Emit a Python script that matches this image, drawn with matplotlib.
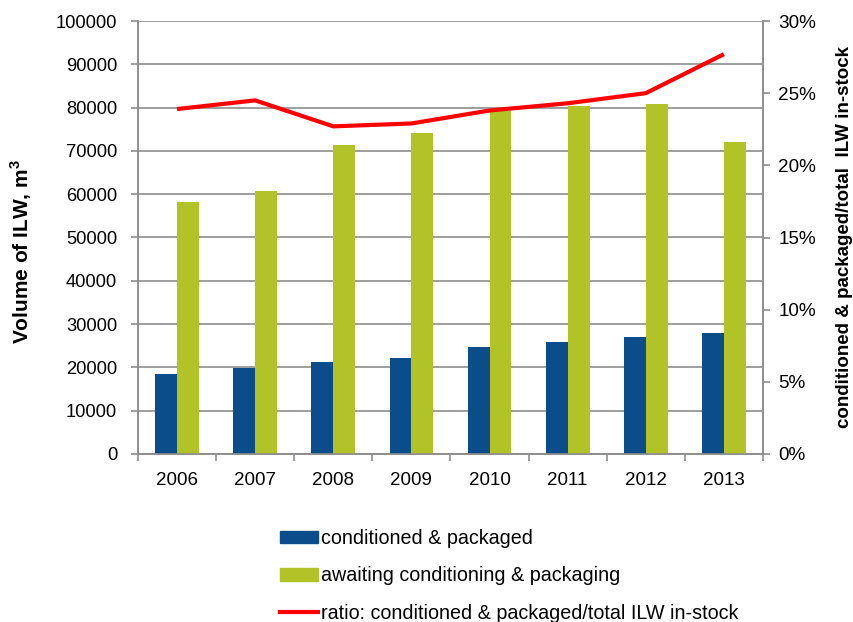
import matplotlib
matplotlib.use("Agg")
import matplotlib.pyplot as plt
import numpy as np
from matplotlib.patches import Patch
from matplotlib.lines import Line2D
from matplotlib.ticker import FuncFormatter

plt.rcParams['font.family'] = ['Liberation Sans', 'DejaVu Sans']

years = ['2006', '2007', '2008', '2009', '2010', '2011', '2012', '2013']
conditioned = [18500, 19900, 21200, 22100, 24800, 25800, 27100, 27900]
awaiting = [58100, 60800, 71400, 74100, 79200, 80400, 80800, 72100]
ratio_pct = [23.9, 24.5, 22.7, 22.9, 23.8, 24.3, 25.0, 27.7]

blue = '#0b4d8a'
green = '#b2c327'
red = '#ff0000'
grid_c = '#8e8e8e'

W, H = 854, 622
fig = plt.figure(figsize=(W / 100, H / 100), dpi=100)
ax = fig.add_axes([138 / W, 1 - 454 / H, 625 / W, 433 / H])
ax2 = ax.twinx()

x = np.arange(len(years))
w = 0.28
ax.bar(x - w / 2, conditioned, width=w, color=blue, zorder=3)
ax.bar(x + w / 2, awaiting, width=w, color=green, zorder=3)
ax2.plot(x, ratio_pct, color=red, lw=3, solid_capstyle='butt', zorder=4)

ax.set_xlim(-0.5, len(years) - 0.5)
ax.set_ylim(0, 100000)
ax.set_yticks(np.arange(0, 100001, 10000))
ax.yaxis.set_major_formatter(FuncFormatter(lambda v, p: f"{int(v)}"))
ax2.set_ylim(0, 30)
ax2.set_yticks(np.arange(0, 31, 5))
ax2.yaxis.set_major_formatter(FuncFormatter(lambda v, p: f"{int(v)}%"))

ax.grid(axis='y', color=grid_c, lw=1.2, zorder=0)
ax.set_axisbelow(True)

ax.set_xticks(x)
ax.set_xticklabels(years)
ax.set_xticks(np.arange(-0.5, len(years)), minor=True)
ax.tick_params(axis='x', which='major', length=0, pad=13, labelsize=13.5)
ax.tick_params(axis='x', which='minor', length=5, color=grid_c, width=1.2)
ax.tick_params(axis='y', length=5, color=grid_c, width=1.2, labelsize=13.2, pad=10)
ax2.tick_params(axis='y', length=5, color=grid_c, width=1.2, labelsize=13.6, pad=6)

for a in (ax, ax2):
    a.spines['top'].set_visible(False)
    for s in ('left', 'right', 'bottom'):
        a.spines[s].set_color(grid_c)
        a.spines[s].set_linewidth(1.2)

fig.text(21 / W, 1 - 252 / H, 'Volume of ILW, m$^\\mathregular{3}$', rotation=90,
         ha='center', va='center', fontsize=15, fontweight='bold')
fig.text(845 / W, 1 - 237 / H, 'conditioned & packaged/total  ILW in-stock', rotation=90,
         ha='center', va='center', fontsize=13.5, fontweight='bold')

handles = [Patch(color=blue), Patch(color=green), Line2D([0], [0], color=red, lw=3)]
labels = ['conditioned & packaged', 'awaiting conditioning & packaging',
          'ratio: conditioned & packaged/total ILW in-stock']
fig.legend(handles, labels, loc='upper left', bbox_to_anchor=(280 / W, 1 - 529 / H),
           frameon=False, fontsize=14.2, handlelength=1.95, handleheight=0.62,
           handletextpad=0.12, labelspacing=0.93, borderaxespad=0, borderpad=0)

fig.savefig('out.png', dpi=100)
